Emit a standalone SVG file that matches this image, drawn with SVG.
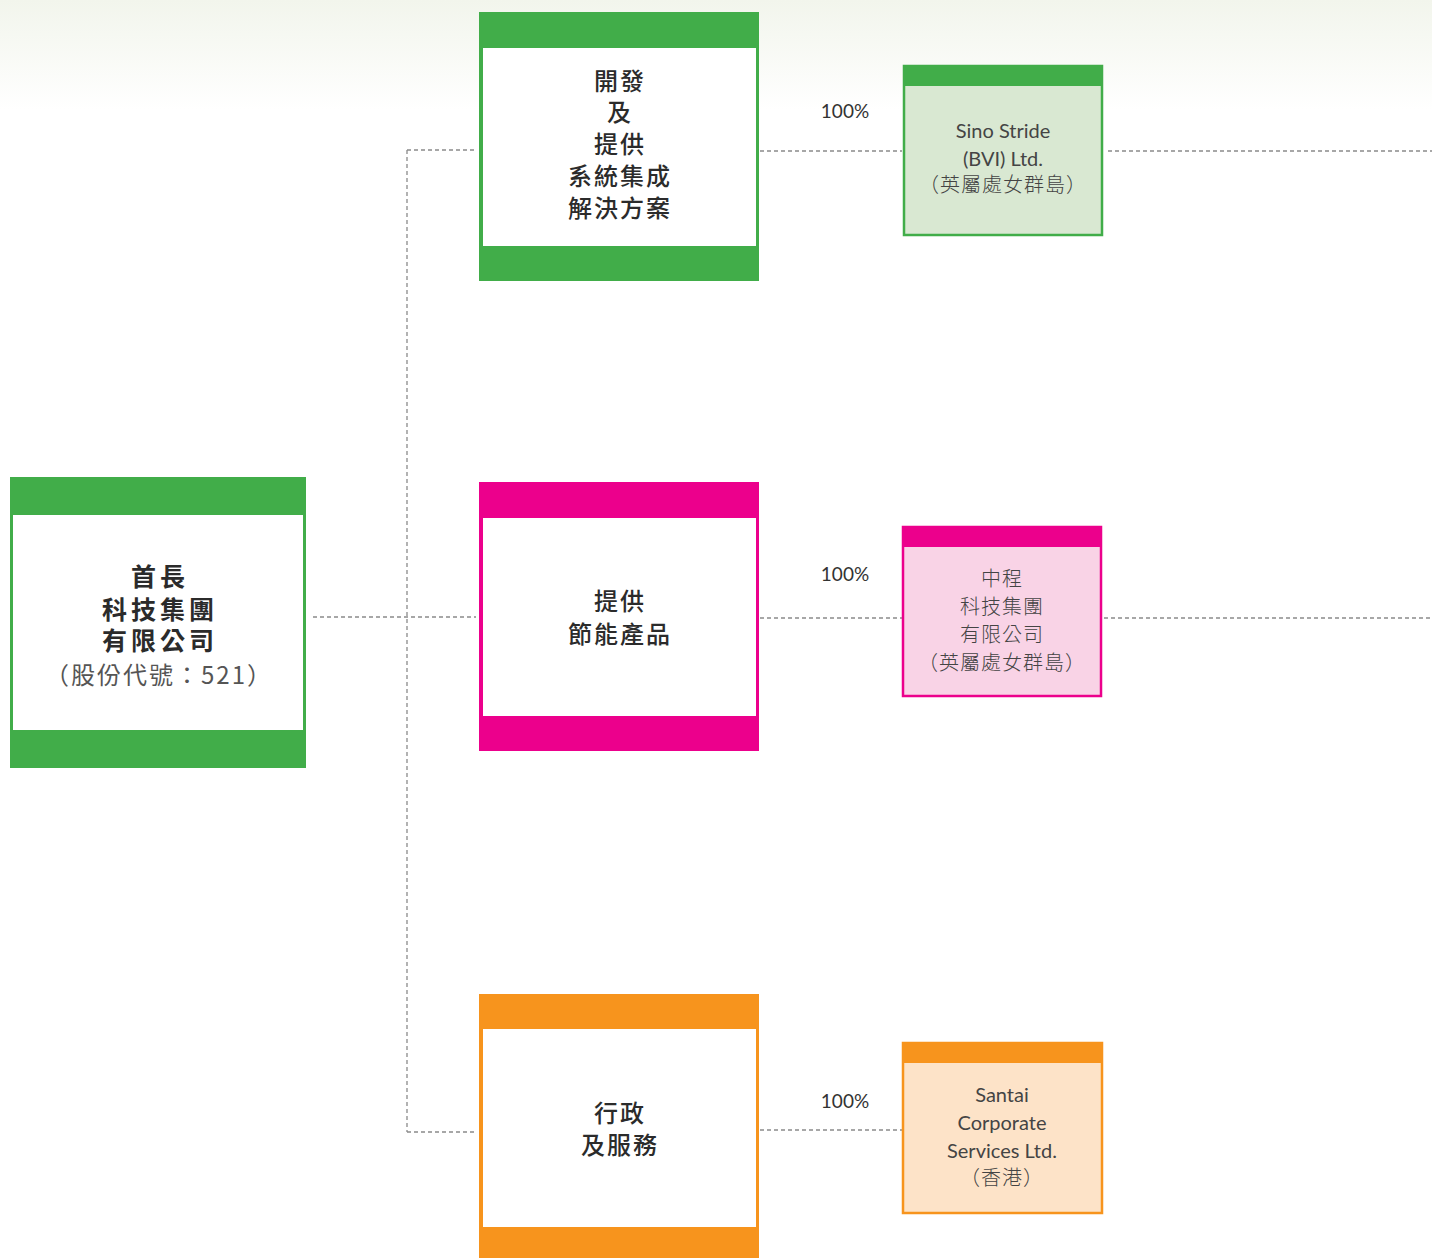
<svg xmlns="http://www.w3.org/2000/svg" width="1432" height="1258" viewBox="0 0 1432 1258">
<defs>
<linearGradient id="bg" x1="0" y1="0" x2="0" y2="1">
<stop offset="0" stop-color="#f2f5ec"/>
<stop offset="1" stop-color="#ffffff"/>
</linearGradient>
<style>
.cn{fill:none;stroke:#8a8a8a;stroke-width:1.3;stroke-dasharray:4 3}
.wh{fill:#ffffff}
.g{fill:#41ad49}
.p{fill:#ec008c}
.o{fill:#f7941d}
.t{font-family:"Noto Sans CJK TC","Noto Sans CJK SC",sans-serif;text-anchor:middle}
.mid{font-size:24px;font-weight:500;fill:#2b2b2b;letter-spacing:2px}
.lft{font-size:25px;font-weight:700;fill:#2b2b2b;letter-spacing:4px}
.lsub{font-size:24px;font-weight:400;fill:#555555;letter-spacing:2px}
.sm{font-family:Lato,"Noto Sans CJK TC",sans-serif;font-size:20px;fill:#444444;text-anchor:middle}
.smc{font-family:"Noto Sans CJK TC","Noto Sans CJK SC",sans-serif;font-size:20px;font-weight:300;fill:#444444;text-anchor:middle;letter-spacing:1px}
.pct{font-family:Lato,sans-serif;font-size:19px;fill:#333333;text-anchor:middle}
</style>
</defs>
<rect x="0" y="0" width="1432" height="1258" fill="#ffffff"/>
<rect x="0" y="0" width="1432" height="110" fill="url(#bg)"/>

<g id="connectors">
<path class="cn" d="M407 150 V1132"/>
<path class="cn" d="M407 150 H474"/>
<path class="cn" d="M313 617 H476"/>
<path class="cn" d="M407 1132 H474"/>
<path class="cn" d="M760 151 H902"/>
<path class="cn" d="M1108 151 H1432"/>
<path class="cn" d="M760 618 H902"/>
<path class="cn" d="M1104 618 H1432"/>
<path class="cn" d="M760 1130 H902"/>
</g>

<g id="parent">
<rect class="g" x="10" y="477" width="296" height="291"/>
<rect class="wh" x="13" y="515" width="290" height="215"/>
<text class="t lft" x="160" y="586">首長</text>
<text class="t lft" x="160" y="619">科技集團</text>
<text class="t lft" x="160" y="650">有限公司</text>
<text class="t lsub" x="159" y="684">（股份代號：521）</text>
</g>

<g id="div-systems">
<rect class="g" x="479" y="12" width="280" height="269"/>
<rect class="wh" x="483" y="48" width="273" height="198"/>
<text class="t mid" x="620" y="90">開發</text>
<text class="t mid" x="620" y="121">及</text>
<text class="t mid" x="620" y="153">提供</text>
<text class="t mid" x="620" y="185">系統集成</text>
<text class="t mid" x="620" y="217">解決方案</text>
</g>

<g id="div-energy">
<rect class="p" x="479" y="482" width="280" height="269"/>
<rect class="wh" x="483" y="518" width="273" height="198"/>
<text class="t mid" x="620" y="610">提供</text>
<text class="t mid" x="620" y="643">節能產品</text>
</g>

<g id="div-admin">
<rect class="o" x="479" y="994" width="280" height="264"/>
<rect class="wh" x="483" y="1029" width="273" height="198"/>
<text class="t mid" x="620" y="1122">行政</text>
<text class="t mid" x="620" y="1154">及服務</text>
</g>

<g id="pct-labels">
<text class="pct" x="845" y="118">100%</text>
<text class="pct" x="845" y="581">100%</text>
<text class="pct" x="845" y="1108">100%</text>
</g>

<g id="sino-stride">
<rect x="904" y="66" width="198" height="169" fill="#d9e8d2" stroke="#41ad49" stroke-width="2.5"/>
<rect class="g" x="903" y="65" width="200" height="21"/>
<text class="sm" x="1003" y="138">Sino Stride</text>
<text class="sm" x="1003" y="166">(BVI) Ltd.</text>
<text class="smc" x="1003" y="192">（英屬處女群島）</text>
</g>

<g id="zhongcheng">
<rect x="903" y="527" width="198" height="169" fill="#f9d3e6" stroke="#ec008c" stroke-width="2.5"/>
<rect class="p" x="902" y="526" width="200" height="21"/>
<text class="smc" x="1002" y="586">中程</text>
<text class="smc" x="1002" y="614">科技集團</text>
<text class="smc" x="1002" y="642">有限公司</text>
<text class="smc" x="1002" y="670">（英屬處女群島）</text>
</g>

<g id="santai">
<rect x="903" y="1043" width="199" height="170" fill="#fde3c8" stroke="#f7941d" stroke-width="2.5"/>
<rect class="o" x="902" y="1042" width="201" height="21"/>
<text class="sm" x="1002" y="1102">Santai</text>
<text class="sm" x="1002" y="1130">Corporate</text>
<text class="sm" x="1002" y="1158">Services Ltd.</text>
<text class="smc" x="1002" y="1185">（香港）</text>
</g>
</svg>
